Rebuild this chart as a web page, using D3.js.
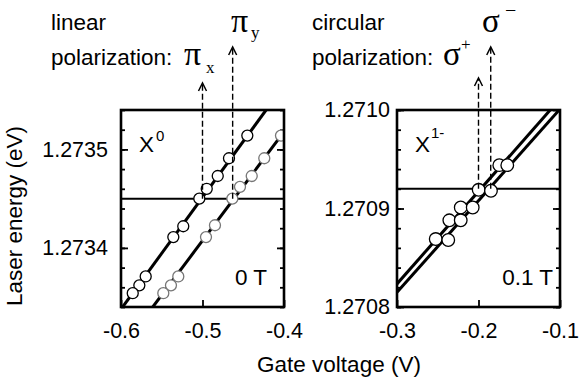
<!DOCTYPE html>
<html lang="en">
  <head>
    <meta charset="utf-8" />
    <title>Laser energy vs gate voltage</title>
    <script src="https://d3js.org/d3.v7.min.js"></script>
    <style type="text/css">
      body {
        margin: 0;
        background: #fff;
      }
      svg text {
        font-family: "Liberation Sans", Arial, sans-serif;
        fill: #000;
      }
      .greek {
        font-family: "Liberation Serif", "DejaVu Serif", serif;
      }
    </style>
  </head>
  <body>
    <svg id="chart" width="580" height="380"></svg>

    <script type="text/javascript">
      // ---- data ----
      // left panel: X0 at 0 T, linear polarization
      const x0VoltTicks = [-0.6, -0.5, -0.4];
      const x0EnergyTicks = [1.2734, 1.2735];
      const x0Domain = [-0.6, -0.4];
      const x0Range = [1.27334, 1.27354];
      const x0LinePiX = [[-0.598, 1.27334], [-0.422, 1.27354]];
      const x0LinePiY = [[-0.561, 1.27334], [-0.380, 1.27354]];
      const x0CirclesPiX = [
        [-0.445, 1.273514], [-0.4675, 1.273491], [-0.4813, 1.273473],
        [-0.4948, 1.27346], [-0.5039, 1.27345], [-0.5236, 1.273422],
        [-0.5358, 1.273411], [-0.5697, 1.273371], [-0.5775, 1.273362],
        [-0.5856, 1.273354]
      ];
      const x0CirclesPiY = [
        [-0.4037, 1.273514], [-0.4242, 1.273491], [-0.4396, 1.273473],
        [-0.454, 1.273462], [-0.4634, 1.27345], [-0.4847, 1.273423],
        [-0.4957, 1.273411], [-0.5297, 1.273371], [-0.5387, 1.273362],
        [-0.5481, 1.273354]
      ];
      const x0Laser = 1.27345;
      const x0Arrows = [-0.5, -0.463];

      // right panel: X1- at 0.1 T, circular polarization
      const xmVoltTicks = [-0.3, -0.2, -0.1];
      const xmEnergyTicks = [1.2708, 1.2709, 1.2710];
      const xmDomain = [-0.3, -0.1];
      const xmRange = [1.2708, 1.2710];
      const xmLineSp = [[-0.325, 1.2708], [-0.112, 1.2710]];
      const xmLineSm = [[-0.316, 1.2708], [-0.101, 1.2710]];
      const xmCirclesSp = [
        [-0.2525, 1.270869], [-0.2358, 1.270888], [-0.2218, 1.270901],
        [-0.1998, 1.270919], [-0.1745, 1.270944]
      ];
      const xmCirclesSm = [
        [-0.2371, 1.270868], [-0.2218, 1.270888], [-0.2071, 1.270901],
        [-0.1847, 1.270918], [-0.1647, 1.270944]
      ];
      const xmLaser = 1.27092;
      const xmArrows = [-0.2, -0.185];

      const svg = d3.select("#chart");
      const yTop = 110, yBottom = 307;
      const tickFont = 21.5, labelFont = 22.5;

      function drawPanel(p) {
        const x = d3.scaleLinear().domain(p.domain).range([p.left, p.right]);
        const y = d3.scaleLinear().domain(p.range).range([yBottom, yTop]);
        const g = svg.append("g");

        g.append("clipPath").attr("id", p.id)
          .append("rect")
          .attr("x", p.left).attr("y", yTop)
          .attr("width", p.right - p.left).attr("height", yBottom - yTop);

        // minor and major ticks, inward
        const tickStyle = sel => {
          sel.select(".domain").remove();
          sel.selectAll("line").attr("stroke-width", 1.8);
          sel.selectAll("text")
            .attr("font-family", "Liberation Sans, Arial, sans-serif")
            .attr("font-size", tickFont);
        };
        g.append("g").attr("transform", `translate(${p.left},0)`)
          .call(d3.axisLeft(y).ticks(10).tickSizeInner(-4).tickSizeOuter(0).tickFormat(""))
          .call(tickStyle);
        g.append("g").attr("transform", `translate(${p.right},0)`)
          .call(d3.axisRight(y).ticks(10).tickSizeInner(-4).tickSizeOuter(0).tickFormat(""))
          .call(tickStyle);
        g.append("g").attr("transform", `translate(${p.left},0)`)
          .call(d3.axisLeft(y).tickValues(p.yTicks).tickSizeInner(-7).tickSizeOuter(0)
            .tickPadding(p.yPad).tickFormat(d3.format(".4f")))
          .call(tickStyle);
        g.append("g").attr("transform", `translate(${p.right},0)`)
          .call(d3.axisRight(y).tickValues(p.yTicks).tickSizeInner(-7).tickSizeOuter(0).tickFormat(""))
          .call(tickStyle);
        g.append("g").attr("transform", `translate(0,${yBottom})`)
          .call(d3.axisBottom(x).tickValues(p.xTicks).tickSizeInner(-7).tickSizeOuter(0)
            .tickPadding(16).tickFormat(d => d.toFixed(1)))
          .call(tickStyle);

        // laser energy line
        g.append("line")
          .attr("x1", p.left).attr("x2", p.right)
          .attr("y1", y(p.laser)).attr("y2", y(p.laser))
          .attr("stroke", "#000").attr("stroke-width", 2);

        // fitted lines
        const line = d3.line().x(d => x(d[0])).y(d => y(d[1]));
        g.append("g").attr("clip-path", `url(#${p.id})`)
          .selectAll("path")
          .data(p.lines)
          .enter()
          .append("path")
          .attr("d", line)
          .attr("fill", "none")
          .attr("stroke", "#000")
          .attr("stroke-width", 3);

        // circles
        p.circles.forEach((set, i) => {
          g.append("g").attr("clip-path", `url(#${p.id})`)
            .selectAll("circle")
            .data(set)
            .enter()
            .append("circle")
            .attr("cx", d => x(d[0]))
            .attr("cy", d => y(d[1]))
            .attr("r", p.r)
            .attr("fill", "#fff")
            .attr("stroke", p.circleColors[i])
            .attr("stroke-width", 1.3);
        });

        // dashed arrows
        p.arrows.forEach((v, i) => {
          const ax = x(v), tip = p.arrowTips[i];
          g.append("line")
            .attr("x1", ax).attr("x2", ax)
            .attr("y1", y(p.laser)).attr("y2", tip + 1)
            .attr("stroke", "#000").attr("stroke-width", 1.4)
            .attr("stroke-dasharray", "6,3");
          g.append("path")
            .attr("d", `M${ax - 4},${tip + 8}L${ax},${tip}L${ax + 4},${tip + 8}`)
            .attr("fill", "none").attr("stroke", "#000").attr("stroke-width", 1.5);
        });

        // frame
        g.append("rect")
          .attr("x", p.left).attr("y", yTop)
          .attr("width", p.right - p.left).attr("height", yBottom - yTop)
          .attr("fill", "none").attr("stroke", "#000").attr("stroke-width", 2.6);

        return g;
      }

      drawPanel({
        id: "clipL", left: 121, right: 284, domain: x0Domain, range: x0Range,
        xTicks: x0VoltTicks, yTicks: x0EnergyTicks, yPad: 13,
        lines: [x0LinePiX, x0LinePiY], circles: [x0CirclesPiX, x0CirclesPiY],
        circleColors: ["#000", "#777"], r: 5.5,
        laser: x0Laser, arrows: x0Arrows, arrowTips: [83, 47]
      });
      drawPanel({
        id: "clipR", left: 397, right: 560, domain: xmDomain, range: xmRange,
        xTicks: xmVoltTicks, yTicks: xmEnergyTicks, yPad: 7,
        lines: [xmLineSp, xmLineSm], circles: [xmCirclesSp, xmCirclesSm],
        circleColors: ["#000", "#000"], r: 6.3,
        laser: xmLaser, arrows: xmArrows, arrowTips: [78, 47]
      });

      // panel labels
      const lab = svg.append("g").attr("font-size", labelFont);
      lab.append("text").attr("x", 51).attr("y", 30).text("linear");
      lab.append("text").attr("x", 51).attr("y", 65).text("polarization:");
      lab.append("text").attr("x", 312).attr("y", 30).text("circular");
      lab.append("text").attr("x", 312).attr("y", 65).text("polarization:");

      lab.append("text").attr("x", 139).attr("y", 152).text("X");
      lab.append("text").attr("x", 156).attr("y", 141).attr("font-size", 15).text("0");
      lab.append("text").attr("x", 415).attr("y", 152).text("X");
      lab.append("text").attr("x", 431).attr("y", 138).attr("font-size", 15).text("1-");
      lab.append("text").attr("x", 267).attr("y", 285).attr("text-anchor", "end").text("0 T");
      lab.append("text").attr("x", 553).attr("y", 285).attr("text-anchor", "end").text("0.1 T");

      // greek polarization symbols
      const gk = svg.append("g");
      gk.append("text").attr("class", "greek").attr("x", 184).attr("y", 65).attr("font-size", 34).text("π");
      gk.append("text").attr("class", "greek").attr("x", 206).attr("y", 73).attr("font-size", 17).text("x");
      gk.append("text").attr("class", "greek").attr("x", 231).attr("y", 32).attr("font-size", 34).text("π");
      gk.append("text").attr("class", "greek").attr("x", 251).attr("y", 38).attr("font-size", 17).text("y");
      gk.append("text").attr("class", "greek").attr("x", 443).attr("y", 65).attr("font-size", 33).text("σ");
      gk.append("text").attr("class", "greek").attr("x", 461).attr("y", 50).attr("font-size", 17).text("+");
      gk.append("text").attr("class", "greek").attr("x", 482).attr("y", 32).attr("font-size", 33).text("σ");
      gk.append("text").attr("class", "greek").attr("x", 505).attr("y", 17).attr("font-size", 20).text("\u2212");

      // axis titles
      svg.append("text")
        .attr("transform", "translate(22,216) rotate(-90)")
        .attr("text-anchor", "middle")
        .attr("font-size", labelFont)
        .text("Laser energy (eV)");
      svg.append("text")
        .attr("x", 339).attr("y", 372)
        .attr("text-anchor", "middle")
        .attr("font-size", labelFont)
        .text("Gate voltage (V)");
    </script>
  </body>
</html>
